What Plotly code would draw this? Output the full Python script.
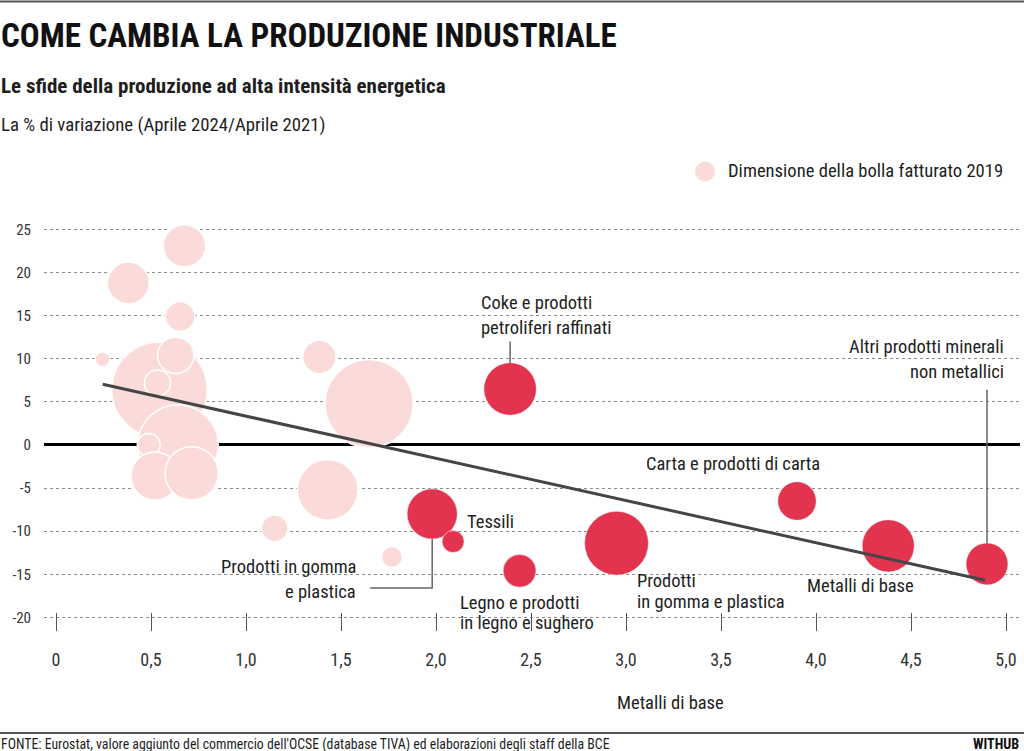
import plotly.graph_objects as go

# bolle di sfondo (settori non evidenziati)
pale_x = [0.676, 0.381, 0.653, 0.245, 1.768, 1.151, 1.43, 1.386, 1.648,
          0.545, 0.63, 0.534, 0.642, 0.488, 0.521, 0.714]
pale_y = [23.1, 18.8, 14.9, 9.95, -13.0, -9.67, -5.2, 10.2, 4.8,
          6.4, 10.4, 7.2, 0.0, 0.0, -3.6, -3.3]
pale_fatt = [45, 44, 22, 5.6, 11, 18, 92, 28, 195,
             228, 33, 17, 162, 13, 58, 71]

# settori ad alta intensita' energetica
red_names = ["Coke e prodotti petroliferi raffinati", "Prodotti in gomma e plastica (1)",
             "Tessili", "Legno e prodotti in legno e sughero",
             "Prodotti in gomma e plastica (2)", "Carta e prodotti di carta",
             "Metalli di base", "Altri prodotti minerali non metallici"]
red_x = [2.39, 1.98, 2.09, 2.44, 2.95, 3.90, 4.38, 4.90]
red_y = [6.5, -8.0, -11.2, -14.6, -11.4, -6.5, -11.7, -13.8]
red_fatt = [69, 63, 12, 27, 102, 37, 68, 44]

# retta di tendenza
trend_x = [0.246, 4.89]
trend_y = [7.04, -15.7]

x_ticks = [0, 0.5, 1.0, 1.5, 2.0, 2.5, 3.0, 3.5, 4.0, 4.5, 5.0]
x_labels = ["0", "0,5", "1,0", "1,5", "2,0", "2,5", "3,0", "3,5", "4,0", "4,5", "5,0"]
y_ticks = [-20, -15, -10, -5, 0, 5, 10, 15, 20, 25]
y_labels = ["-20", "-15", "-10", "-5", "0", "5", "10", "15", "20", "25"]

PALE = "#fadbda"
RED = "#e3344f"
FONT = "Roboto Condensed, Liberation Sans Narrow, Noto Sans Condensed, Roboto, sans-serif"
INK = "#1e1e1e"

W, H = 1024, 751
L, R, T, B = 44, 4, 212, 120


def px(x, y):
    # pixel della pagina -> coordinate paper
    return (x - L) / (W - L - R), (H - B - y) / (H - T - B)


fig = go.Figure()

fig.add_trace(go.Scatter(
    x=pale_x, y=pale_y, mode="markers", hoverinfo="skip",
    marker=dict(size=pale_fatt, sizemode="area", sizeref=0.05, color=PALE,
                opacity=1, line=dict(color="white", width=1.5))))

fig.add_trace(go.Scatter(
    x=red_x, y=red_y, mode="markers", text=red_names,
    marker=dict(size=red_fatt, sizemode="area", sizeref=0.05, color=RED,
                opacity=1, line=dict(color="white", width=0.5))))

fig.add_trace(go.Scatter(
    x=trend_x, y=trend_y, mode="lines", hoverinfo="skip",
    line=dict(color="#454545", width=3)))

annotations = []


def label(text, x, y, anchor="left", size=18.5):
    annotations.append(dict(x=x, y=y, xref="x", yref="y", text=text, showarrow=False,
                            xanchor=anchor, yanchor="middle",
                            font=dict(family=FONT, size=size, color=INK)))


label("Coke e prodotti", 2.226, 16.5)
label("petroliferi raffinati", 2.226, 13.57)
label("Altri prodotti minerali", 5.0, 11.4, "right")
label("non metallici", 5.0, 8.5, "right")
label("Carta e prodotti di carta", 3.563, -2.2, "center")
label("Tessili", 2.153, -8.93)
label("Prodotti in gomma", 1.589, -14.15, "right")
label("e plastica", 1.589, -17.0, "right")
label("Legno e prodotti", 2.118, -18.33)
label("in legno e sughero", 2.118, -20.65)
label("Prodotti", 3.047, -15.78)
label("in gomma e plastica", 3.047, -18.18)
label("Metalli di base", 3.941, -16.32)


def page_text(text, x, y, anchor="left", size=16, bold=False, color=INK, family=FONT):
    ax, ay = px(x, y)
    annotations.append(dict(x=ax, y=ay, xref="paper", yref="paper", text=text,
                            showarrow=False, xanchor=anchor, yanchor="middle",
                            font=dict(family=family, size=size, color=color,
                                      weight="bold" if bold else "normal")))


page_text("COME CAMBIA LA PRODUZIONE INDUSTRIALE", -1, 35, size=33, bold=True, color="#111")
page_text("Le sfide della produzione ad alta intensità energetica", -1, 86, size=21, bold=True)
page_text("La % di variazione (Aprile 2024/Aprile 2021)", -1, 125, size=18.8)
page_text("Dimensione della bolla fatturato 2019", 726, 171, size=18.6)
page_text("Metalli di base", 670, 703, anchor="center", size=18.5)
page_text("FONTE: Eurostat, valore aggiunto del commercio dell'OCSE (database TIVA) ed elaborazioni degli staff della BCE",
          -1, 744, size=13.8)
page_text("WITHUB", 1021, 744, anchor="right", size=14, bold=True, color="#111")

lx, ly = px(705, 171.5)
shapes = [
    # cerchio della legenda
    dict(type="circle", xref="paper", yref="paper", xsizemode="pixel", ysizemode="pixel",
         xanchor=lx, yanchor=ly, x0=-10, x1=10, y0=-10, y1=10,
         fillcolor=PALE, line=dict(width=0)),
    # linee di richiamo
    dict(type="line", xref="x", yref="y", x0=red_x[0], x1=red_x[0], y0=9.5, y1=12.0,
         line=dict(color="#666", width=1.5)),
    dict(type="line", xref="x", yref="y", x0=red_x[7], x1=red_x[7], y0=-11.4, y1=6.4,
         line=dict(color="#666", width=1.5)),
    dict(type="path", xref="x", yref="y",
         path=f"M {red_x[1]},-10.9 L {red_x[1]},-16.6 L 1.653,-16.6",
         line=dict(color="#666", width=1.5)),
]

# filetti in alto e sopra la fonte
for yy in [1.5, 733]:
    x0, y0 = px(0, yy)
    x1, _ = px(W, yy)
    shapes.append(dict(type="line", xref="paper", yref="paper", x0=x0, x1=x1, y0=y0, y1=y0,
                       line=dict(color="#555", width=2)))

fig.update_layout(
    width=W, height=H,
    margin=dict(l=L, r=R, t=T, b=B),
    paper_bgcolor="white", plot_bgcolor="white",
    showlegend=False,
    font=dict(family=FONT, color=INK),
    annotations=annotations,
    shapes=shapes,
    xaxis=dict(range=[-0.0632, 5.0737], tickvals=x_ticks, ticktext=x_labels,
               showgrid=False, zeroline=False, showline=False,
               ticks="inside", ticklen=18, tickwidth=1, tickcolor="#555",
               ticklabelstandoff=16, tickfont=dict(family=FONT, size=18, color="#333")),
    yaxis=dict(range=[-21.58, 27.03], tickvals=y_ticks, ticktext=y_labels,
               showgrid=True, gridcolor="#8a8a8a", griddash="dot", gridwidth=1,
               zeroline=True, zerolinecolor="#000", zerolinewidth=3,
               showline=False, ticks="", ticklabelstandoff=12,
               tickfont=dict(family=FONT, size=15, color="#333")),
)

fig.write_html("out.html", config={"displayModeBar": False},
               post_script="document.body.style.margin='0';")
